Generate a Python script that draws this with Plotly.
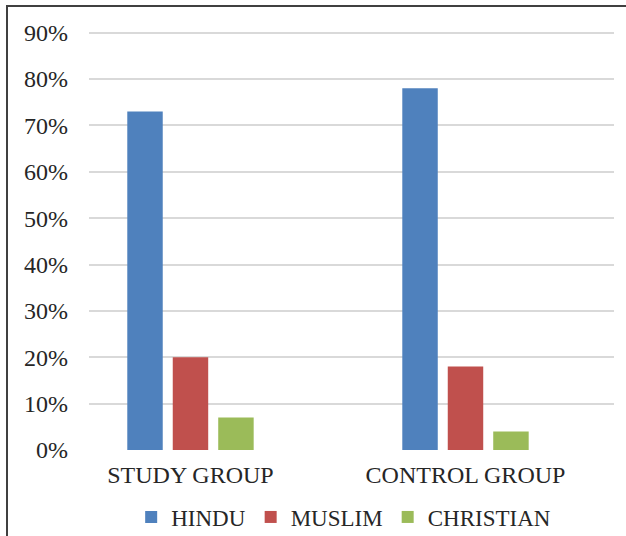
import plotly.graph_objects as go

groups = ["STUDY GROUP", "CONTROL GROUP"]
religions = ["HINDU", "MUSLIM", "CHRISTIAN"]
hindu = [0.73, 0.78]
muslim = [0.20, 0.18]
christian = [0.07, 0.04]
tick_vals = [0, 0.1, 0.2, 0.3, 0.4, 0.5, 0.6, 0.7, 0.8, 0.9]
tick_text = ["0%", "10%", "20%", "30%", "40%", "50%", "60%", "70%", "80%", "90%"]

colors = ["#4F81BD", "#C0504D", "#9BBB59"]
series = [hindu, muslim, christian]

W, H = 626, 536
ML, MR, MT, MB = 89, 12, 28, 86
FONT = "Liberation Serif"
FS = 24
TXT = "#262626"

fig = go.Figure()
for name, vals, col in zip(religions, series, colors):
    fig.add_trace(go.Bar(
        x=groups, y=vals, name=name,
        marker=dict(color=col, line=dict(width=0)),
    ))

fig.update_layout(
    width=W, height=H,
    margin=dict(l=ML, r=MR, t=MT, b=MB, pad=0, autoexpand=False),
    paper_bgcolor="white", plot_bgcolor="white",
    barmode="group", bargap=0.504, bargroupgap=0.22,
    font=dict(family=FONT, size=FS, color=TXT),
    showlegend=True,
    legend=dict(
        orientation="h", xref="container", x=0.549, xanchor="center",
        yref="container", y=(H - 517) / H, yanchor="middle",
        itemwidth=30, traceorder="normal",
        font=dict(family=FONT, size=23, color=TXT),
    ),
    xaxis=dict(
        type="category", range=[-0.369, 1.54],
        showgrid=False, showline=False, ticks="",
        tickfont=dict(family=FONT, size=FS, color=TXT),
        ticklabelstandoff=8,
    ),
    yaxis=dict(
        range=[0, 0.91], tickvals=tick_vals, ticktext=tick_text,
        showgrid=True, gridcolor="#D9D9D9", gridwidth=1.5,
        zeroline=False, showline=False, ticks="",
        tickfont=dict(family=FONT, size=FS, color=TXT),
        ticklabelstandoff=20,
    ),
)

# Outer chart frame: left and top edges sit inside the page, the rest runs off it
pw = W - ML - MR
ph = H - MT - MB
fig.add_shape(
    type="rect", xref="paper", yref="paper",
    x0=(7 - ML) / pw, x1=(660 - ML) / pw,
    y0=-(580 - (H - MB)) / ph, y1=((H - MB) - 6) / ph,
    line=dict(color="#404040", width=2), fillcolor="rgba(0,0,0,0)",
    layer="above",
)

fig.write_html("out.html")
